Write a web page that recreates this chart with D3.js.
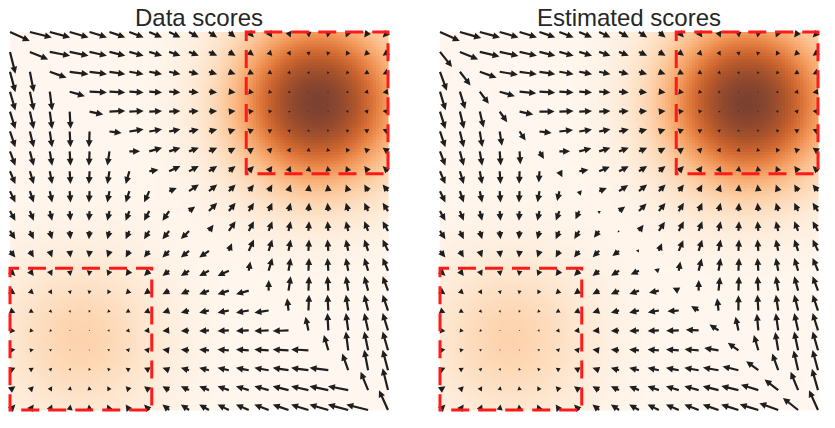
<!DOCTYPE html>
<html><head><meta charset="utf-8">
<script src="https://cdn.jsdelivr.net/npm/d3@7"></script>
<style>body{margin:0;background:#fff;font-family:Arial,"Liberation Sans",sans-serif}</style>
</head><body><svg id="chart" width="835" height="428"></svg>
<script>
// mixture components (domain is [-4,4] in both axes)
var centersX = [-2.5, 2.5];
var centersY = [-2.5, 2.5];
var weights = [0.2, 0.8];
var boxLo = [-4, 1];
var boxHi = [-1, 4];
var titles = ["Data scores", "Estimated scores"];
var respSigma = [0.55, 1.05]; // sharp for data, smoother for the estimate
var panelLeft = [10, 440];
var palette = ["#fff7ef", "#fde3c8", "#fdc493", "#f59a5a", "#d96a2f", "#a8522a", "#7c4131"];

var W = 378, plotTop = 32, nGrid = 20, nCells = 126;
var svg = d3.select("#chart");
var color = d3.scaleSequential(d3.interpolateRgbBasis(palette)).domain([0, 1]);

function dens(x, y) {
  var s = 0;
  for (var k = 0; k < weights.length; k++) {
    var dx = x - centersX[k], dy = y - centersY[k];
    s += weights[k] * Math.exp(-(dx*dx + dy*dy) / (2*1.25*1.25));
  }
  return s;
}
function score(x, y, sr) {
  var r = [], tot = 0;
  for (var k = 0; k < weights.length; k++) {
    var dx = x - centersX[k], dy = y - centersY[k];
    var v = weights[k] * Math.exp(-(dx*dx + dy*dy) / (2*sr*sr));
    r.push(v); tot += v;
  }
  var sx = 0, sy = 0;
  for (k = 0; k < weights.length; k++) {
    sx += r[k]/tot * (centersX[k] - x);
    sy += r[k]/tot * (centersY[k] - y);
  }
  return [sx, sy];
}
var maxD = dens(2.5, 2.5);

panelLeft.forEach(function(left, p) {
  var xs = d3.scaleLinear().domain([-4, 4]).range([left, left + W]);
  var ys = d3.scaleLinear().domain([-4, 4]).range([plotTop + W, plotTop]);
  var g = svg.append("g");
  var cw = W / nCells, cells = [];
  for (var i = 0; i < nCells; i++) for (var j = 0; j < nCells; j++) cells.push([i, j]);
  g.selectAll("rect.c").data(cells).enter().append("rect")
    .attr("x", d => left + d[0]*cw).attr("y", d => plotTop + d[1]*cw)
    .attr("width", cw + 0.5).attr("height", cw + 0.5)
    .attr("fill", function(d) {
      var x = xs.invert(left + (d[0]+0.5)*cw), y = ys.invert(plotTop + (d[1]+0.5)*cw);
      return color(dens(x, y) / maxD);
    });
  // arrows
  var pts = [];
  for (i = 0; i < nGrid; i++) for (j = 0; j < nGrid; j++) {
    var x = -4 + 8*i/(nGrid-1), y = -4 + 8*j/(nGrid-1);
    pts.push({x: x, y: y, s: score(x, y, respSigma[p])});
  }
  g.selectAll("path.a").data(pts).enter().append("path")
    .attr("fill", "#1e1e1e")
    .attr("transform", function(d) {
      var ang = Math.atan2(-d.s[1], d.s[0]) * 180 / Math.PI;
      return "translate(" + xs(d.x) + "," + ys(d.y) + ") rotate(" + ang + ")";
    })
    .attr("d", function(d) {
      var L = Math.hypot(d.s[0], d.s[1]) * 3.6;
      var h = Math.min(7, L), w = Math.min(3.4, L*0.55), t = 1.1;
      return "M0," + (-t) + "L" + (L-h) + "," + (-t) + "L" + (L-h) + "," + (-w) + "L" + L + ",0L" +
        (L-h) + "," + w + "L" + (L-h) + "," + t + "L0," + t + "Z";
    });
  // boxes
  for (var k = 0; k < 2; k++) {
    g.append("rect").attr("x", xs(boxLo[k])).attr("y", ys(boxHi[k]))
      .attr("width", xs(boxHi[k]) - xs(boxLo[k])).attr("height", ys(boxLo[k]) - ys(boxHi[k]))
      .attr("fill", "none").attr("stroke", "#ff1a1a").attr("stroke-width", 3)
      .attr("stroke-dasharray", "18,9").attr("stroke-dashoffset", 9);
  }
  svg.append("text").attr("x", left + W/2).attr("y", 26).attr("text-anchor", "middle")
    .attr("font-size", 24).attr("fill", "#262626").text(titles[p]);
});
</script></body></html>
